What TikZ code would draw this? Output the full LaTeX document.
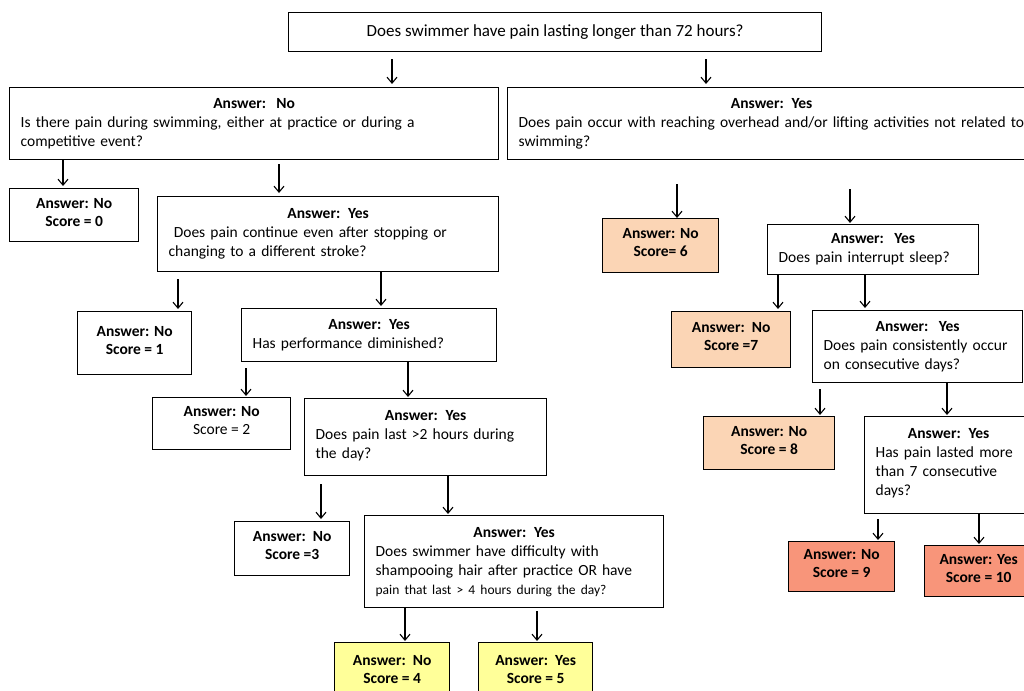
\documentclass[tikz,border=0pt]{standalone}
\usepackage{fontspec}
\setmainfont{Carlito}
\usepackage{xcolor}
\usepackage{tikz}
\usetikzlibrary{arrows.meta}
\definecolor{peach}{HTML}{FBD5B5}
\definecolor{salmon}{HTML}{F8957A}
\definecolor{lemon}{HTML}{FFFF99}
\tikzstyle{qbox} = [rectangle, draw=black, line width=1.3pt, anchor=north west, inner xsep=11pt, inner ysep=0pt, align=left, font=\fontsize{15.5}{19}\selectfont]
\tikzstyle{sbox} = [rectangle, draw=black, line width=1.3pt, anchor=north west, inner sep=0pt, align=center, font=\fontsize{15.5}{18}\selectfont\bfseries]
\tikzstyle{arrow} = [line width=1.1pt, -{Straight Barb[length=6pt, width=10pt]}]
\newcommand{\answer}[1]{\hspace*{\fill}\textbf{#1}\hspace*{\fill}\mbox{}}

\begin{document}
\begin{tikzpicture}[x=1pt, y=-1pt]
\useasboundingbox (0,0) rectangle (1024,690);
\clip (0,0) rectangle (1024,690);

  % Top question
  \node (root) [sbox, font=\fontsize{17}{20}\selectfont, minimum width=533pt, minimum height=39pt] at (288,12) {Does swimmer have pain lasting longer than 72 hours?\vphantom{\Large y}};

  % Left branch (answer no)
  \node (swimQ) [qbox, text width=467pt, minimum height=72pt] at (9,87) {\answer{Answer:\ \ No}\\Is there pain during swimming, either at practice or during a\\competitive event?};
  \node (score0) [sbox, minimum width=129pt, minimum height=53pt] at (9,188) {Answer: No\\Score = 0\strut};
  \node (strokeQ) [qbox, text width=319pt, minimum height=75pt] at (157,196) {\answer{Answer: Yes}\\\ Does pain continue even after stopping or\\changing to a different stroke?};
  \node (score1) [sbox, minimum width=114pt, minimum height=63pt] at (77,311) {Answer: No\\Score = 1\strut};
  \node (perfQ) [qbox, text width=233pt, minimum height=53pt] at (241,308) {\answer{Answer: Yes}\\Has performance diminished?};
  \node (score2) [sbox, minimum width=138pt, minimum height=52pt] at (152,397) {Answer: No\\\textmd{Score = 2}\strut};
  \node (hoursQ) [qbox, text width=220pt, minimum height=77pt] at (304,398) {\answer{Answer: Yes}\\Does pain last >2 hours during\\the day?\strut};
  \node (score3) [sbox, minimum width=115pt, minimum height=54pt] at (234,521) {Answer:\ \ No\\Score =3\strut};
  \node (hairQ) [qbox, text width=277pt, minimum height=92pt] at (364,515) {\answer{Answer: Yes}\\Does swimmer have difficulty with\\shampooing hair after practice OR have\\{\fontsize{13.5}{17}\selectfont pain that last > 4 hours during the day?}};
  \node (score4) [sbox, fill=lemon, minimum width=115pt, minimum height=60pt] at (334,642) {Answer:\ \ No\\Score = 4\strut};
  \node (score5) [sbox, fill=lemon, minimum width=114pt, minimum height=60pt] at (478,642) {Answer:\ \ Yes\\Score = 5\strut};

  % Right branch (answer yes)
  \node (liftQ) [qbox, text width=506pt, minimum height=72pt] at (507,87) {\answer{Answer: Yes}\\Does pain occur with reaching overhead and/or lifting activities not related to\\swimming?};
  \node (score6) [sbox, fill=peach, minimum width=116pt, minimum height=54pt] at (602,218) {Answer: No\\Score= 6\strut};
  \node (sleepQ) [qbox, text width=189pt, minimum height=50pt] at (767,224) {\answer{Answer:\ \ Yes}\\Does pain interrupt sleep?};
  \node (score7) [sbox, fill=peach, minimum width=119pt, minimum height=56pt] at (671,311) {Answer:\ \ No\\Score =7\strut};
  \node (daysQ) [qbox, text width=188pt, minimum height=72pt] at (812,310) {\answer{Answer:\ \ Yes}\\Does pain consistently occur\\on consecutive days?};
  \node (score8) [sbox, fill=peach, minimum width=131pt, minimum height=53pt] at (703,416) {Answer: No\\Score = 8\strut};
  \node (weekQ) [qbox, text width=146pt, minimum height=97pt] at (864,416) {\answer{Answer: Yes}\\Has pain lasted more\\than 7 consecutive\\days?\strut};
  \node (score9) [sbox, fill=salmon, minimum width=106pt, minimum height=50pt] at (788,541) {Answer: No\\Score = 9\strut};
  \node (score10) [sbox, fill=salmon, minimum width=108pt, minimum height=51pt] at (924,545) {Answer: Yes\\Score = 10\strut};

  % Arrows
  \draw [arrow, shorten <=7pt, shorten >=3pt] (392,0 |- root.south) -- (392,0 |- swimQ.north);
  \draw [arrow, shorten <=7pt, shorten >=3pt] (706,0 |- root.south) -- (706,0 |- liftQ.north);
  \draw [arrow, shorten >=2pt] (63,0 |- swimQ.south) -- (63,0 |- score0.north);
  \draw [arrow, shorten <=4pt, shorten >=3pt] (279,0 |- swimQ.south) -- (279,0 |- strokeQ.north);
  \draw [arrow, shorten <=7pt, shorten >=2pt] (178,0 |- strokeQ.south) -- (178,0 |- score1.north);
  \draw [arrow, shorten >=2pt] (381,0 |- strokeQ.south) -- (381,0 |- perfQ.north);
  \draw [arrow, shorten <=6pt, shorten >=1pt] (246,0 |- perfQ.south) -- (246,0 |- score2.north);
  \draw [arrow, shorten >=1pt] (408,0 |- perfQ.south) -- (408,0 |- hoursQ.north);
  \draw [arrow, shorten <=8pt, shorten >=2pt] (321,0 |- hoursQ.south) -- (321,0 |- score3.north);
  \draw [arrow, shorten >=1pt] (448,0 |- hoursQ.south) -- (448,0 |- hairQ.north);
  \draw [arrow, shorten >=1pt] (405,0 |- hairQ.south) -- (405,0 |- score4.north);
  \draw [arrow, shorten <=3pt, shorten >=1pt] (537,0 |- hairQ.south) -- (537,0 |- score5.north);
  \draw [arrow, shorten <=24pt] (677,0 |- liftQ.south) -- (677,0 |- score6.north);
  \draw [arrow, shorten <=29pt, shorten >=1pt] (850,0 |- liftQ.south) -- (850,0 |- sleepQ.north);
  \draw [arrow, shorten >=2pt] (778,0 |- sleepQ.south) -- (778,0 |- score7.north);
  \draw [arrow, shorten >=2pt] (865,0 |- sleepQ.south) -- (865,0 |- daysQ.north);
  \draw [arrow, shorten <=6pt, shorten >=1pt] (820,0 |- daysQ.south) -- (820,0 |- score8.north);
  \draw [arrow, shorten >=1pt] (947,0 |- daysQ.south) -- (947,0 |- weekQ.north);
  \draw [arrow, shorten <=5pt, shorten >=1pt] (878,0 |- weekQ.south) -- (878,0 |- score9.north);
  \draw [arrow, shorten >=1pt] (979,0 |- weekQ.south) -- (979,0 |- score10.north);

\end{tikzpicture}
\end{document}
